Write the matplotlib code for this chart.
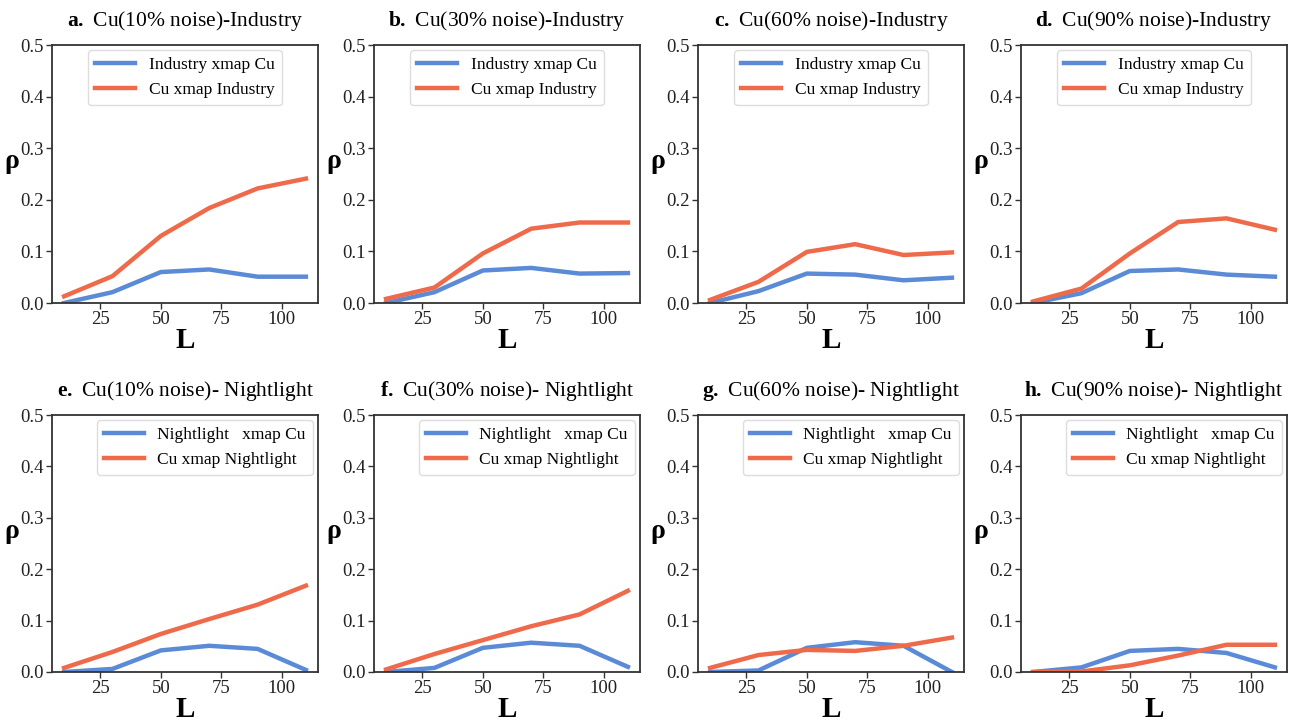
import matplotlib
matplotlib.use("Agg")
import matplotlib.pyplot as plt

plt.rcParams['font.family'] = ['Liberation Serif', 'DejaVu Serif']
plt.rcParams['mathtext.fontset'] = 'custom'
plt.rcParams['mathtext.rm'] = 'Liberation Serif'
plt.rcParams['mathtext.bf'] = 'Liberation Serif:bold'

L = [10, 30, 50, 70, 90, 110]

titles = ["a.", "b.", "c.", "d.", "e.", "f.", "g.", "h."]
title_texts = [
    "Cu(10% noise)-Industry", "Cu(30% noise)-Industry",
    "Cu(60% noise)-Industry", "Cu(90% noise)-Industry",
    "Cu(10% noise)- Nightlight", "Cu(30% noise)- Nightlight",
    "Cu(60% noise)- Nightlight", "Cu(90% noise)- Nightlight"]

blue_labels = ["Industry xmap Cu"] * 4 + ["Nightlight   xmap Cu"] * 4
orange_labels = ["Cu xmap Industry"] * 4 + ["Cu xmap Nightlight"] * 4

blue_a = [0.000, 0.021, 0.060, 0.065, 0.051, 0.051]
orange_a = [0.013, 0.052, 0.130, 0.184, 0.222, 0.241]
blue_b = [0.000, 0.021, 0.063, 0.068, 0.057, 0.058]
orange_b = [0.008, 0.030, 0.096, 0.144, 0.156, 0.156]
blue_c = [0.000, 0.023, 0.057, 0.055, 0.044, 0.049]
orange_c = [0.006, 0.041, 0.099, 0.114, 0.093, 0.098]
blue_d = [0.000, 0.019, 0.062, 0.065, 0.055, 0.051]
orange_d = [0.003, 0.028, 0.096, 0.157, 0.164, 0.142]
blue_e = [0.000, 0.006, 0.042, 0.051, 0.045, 0.004]
orange_e = [0.008, 0.039, 0.074, 0.103, 0.131, 0.168]
blue_f = [0.000, 0.008, 0.047, 0.057, 0.051, 0.010]
orange_f = [0.005, 0.035, 0.062, 0.089, 0.112, 0.158]
blue_g = [0.000, 0.003, 0.047, 0.058, 0.051, 0.000]
orange_g = [0.008, 0.033, 0.043, 0.041, 0.051, 0.067]
blue_h = [0.000, 0.009, 0.041, 0.045, 0.037, 0.009]
orange_h = [0.000, 0.001, 0.013, 0.032, 0.053, 0.053]

blues = [blue_a, blue_b, blue_c, blue_d, blue_e, blue_f, blue_g, blue_h]
oranges = [orange_a, orange_b, orange_c, orange_d, orange_e, orange_f, orange_g, orange_h]

BLUE = "#5b8bd6"
ORANGE = "#ee6a4b"
SPINE = "#333333"

W, H = 1290, 722
fig = plt.figure(figsize=(W / 100, H / 100), dpi=100)

lefts = [52, 374, 698, 1021]
aw = 266
rows = [(45, 303), (415, 672)]

for i in range(8):
    r, c = divmod(i, 4)
    top, bot = rows[r]
    ax = fig.add_axes([lefts[c] / W, 1 - bot / H, aw / W, (bot - top) / H])
    ax.plot(L, blues[i], color=BLUE, lw=3.2, label=blue_labels[i])
    ax.plot(L, oranges[i], color=ORANGE, lw=3.2, label=orange_labels[i])
    ax.set_ylim(0, 0.5)
    ax.set_xlim(5, 115)
    ax.set_xticks([25, 50, 75, 100])
    ax.set_yticks([0.0, 0.1, 0.2, 0.3, 0.4, 0.5])
    ax.set_yticklabels(["0.0", "0.1", "0.2", "0.3", "0.4", "0.5"])
    ax.tick_params(labelsize=13.5, length=4, width=1, color=SPINE, labelcolor="#222222", pad=2)
    for s in ax.spines.values():
        s.set_color(SPINE)
        s.set_linewidth(1.3)
    ax.set_xlabel("L", fontsize=21, fontweight="bold", labelpad=-1)
    ax.set_ylabel("ρ", fontsize=20, fontweight="bold", rotation=0)
    ax.yaxis.set_label_coords(-0.15, 0.50)
    ax.set_title(r"$\mathbf{" + titles[i][0] + r".}$ " + title_texts[i], fontsize=15.5, pad=14)
    ax.legend(loc="upper center" if r == 0 else "upper right", fontsize=12.5,
              handlelength=2.3, framealpha=1, edgecolor="#dddddd", fancybox=True,
              borderpad=0.4, labelspacing=0.5, handletextpad=0.8, borderaxespad=0.3)

fig.savefig("out.png", dpi=100, facecolor="white")
